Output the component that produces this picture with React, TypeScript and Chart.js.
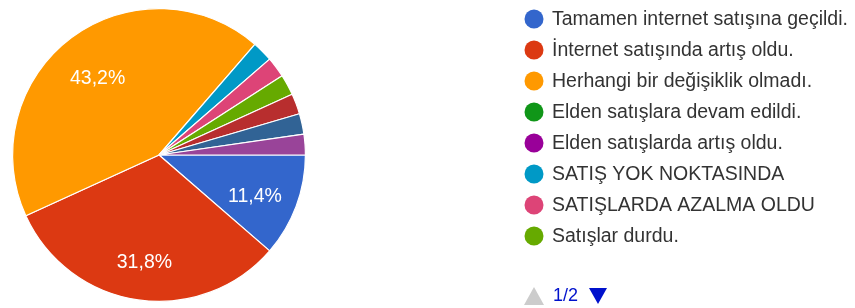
import React, { useEffect, useRef } from "react";
import { Chart, registerables } from "chart.js";

Chart.register(...registerables);

const labels = [
  "Tamamen internet satışına geçildi.",
  "İnternet satışında artış oldu.",
  "Herhangi bir değişiklik olmadı.",
  "Elden satışlara devam edildi.",
  "Elden satışlarda artış oldu.",
  "SATIŞ YOK NOKTASINDA",
  "SATIŞLARDA AZALMA OLDU",
  "Satışlar durdu.",
  "Seçenek 9",
  "Seçenek 10",
  "Seçenek 11",
];
const values = [5, 14, 19, 0, 0, 1, 1, 1, 1, 1, 1];
const colors = [
  "#3366cc",
  "#dc3912",
  "#ff9900",
  "#109618",
  "#990099",
  "#0099c6",
  "#dd4477",
  "#66aa00",
  "#b82e2e",
  "#316395",
  "#994499",
];
const legendPageSize = 8;
const pagerText = "1/2";

const FONT = '"Liberation Sans", Arial, sans-serif';

const sliceLabelPlugin = {
  id: "sliceLabels",
  afterDatasetsDraw(chart: any) {
    const ctx = chart.ctx;
    const meta = chart.getDatasetMeta(0);
    const data = chart.data.datasets[0].data as number[];
    const total = data.reduce((a, b) => a + b, 0);
    ctx.save();
    ctx.fillStyle = "#ffffff";
    ctx.font = `19.5px ${FONT}`;
    ctx.textAlign = "center";
    ctx.textBaseline = "middle";
    meta.data.forEach((arc: any, i: number) => {
      const pct = data[i] / total;
      if (pct < 0.05) return;
      const p = arc.getProps(["x", "y", "startAngle", "endAngle", "outerRadius"], true);
      const mid = (p.startAngle + p.endAngle) / 2;
      const d = p.outerRadius * 0.7;
      const txt = (pct * 100).toFixed(1).replace(".", ",") + "%";
      ctx.fillText(txt, p.x + Math.cos(mid) * d, p.y + Math.sin(mid) * d + 6);
    });
    ctx.restore();
  },
};

const legendPlugin = {
  id: "customLegend",
  afterDraw(chart: any) {
    const ctx = chart.ctx;
    ctx.save();
    const x0 = 534;
    const y0 = 19;
    const step = 31;
    ctx.textBaseline = "middle";
    ctx.textAlign = "left";
    ctx.font = `19.5px ${FONT}`;
    for (let i = 0; i < legendPageSize; i++) {
      const y = y0 + i * step;
      ctx.fillStyle = colors[i];
      ctx.beginPath();
      ctx.arc(x0, y, 9.5, 0, Math.PI * 2);
      ctx.fill();
      ctx.fillStyle = "#333333";
      ctx.fillText(labels[i], 552, y + 1);
    }
    // pager
    const py = 296;
    ctx.fillStyle = "#cccccc";
    ctx.beginPath();
    ctx.moveTo(534, py - 9);
    ctx.lineTo(544, py + 9);
    ctx.lineTo(524, py + 9);
    ctx.closePath();
    ctx.fill();
    ctx.fillStyle = "#0011cc";
    ctx.font = `18px ${FONT}`;
    ctx.fillText(pagerText, 553, py);
    ctx.beginPath();
    ctx.moveTo(589, py - 8);
    ctx.lineTo(607, py - 8);
    ctx.lineTo(598, py + 8);
    ctx.closePath();
    ctx.fill();
    ctx.restore();
  },
};

export default function App() {
  const ref = useRef<HTMLCanvasElement>(null);
  useEffect(() => {
    document.body.style.margin = "0";
    const chart = new Chart(ref.current!, {
      type: "pie",
      data: {
        labels,
        datasets: [
          {
            data: values,
            backgroundColor: colors,
            borderColor: "#ffffff",
            borderWidth: 1.2,
          },
        ],
      },
      options: {
        responsive: false,
        animation: false,
        rotation: 90,
        layout: { padding: { left: 12, top: 8, right: 549, bottom: 6 } },
        plugins: {
          legend: { display: false },
          tooltip: { enabled: false },
        },
      },
      plugins: [sliceLabelPlugin, legendPlugin],
    });
    return () => chart.destroy();
  }, []);
  return (
    <div style={{ position: "fixed", left: 0, top: 0, width: 855, height: 308, background: "#fff" }}>
      <canvas ref={ref} width={855} height={308} />
    </div>
  );
}
